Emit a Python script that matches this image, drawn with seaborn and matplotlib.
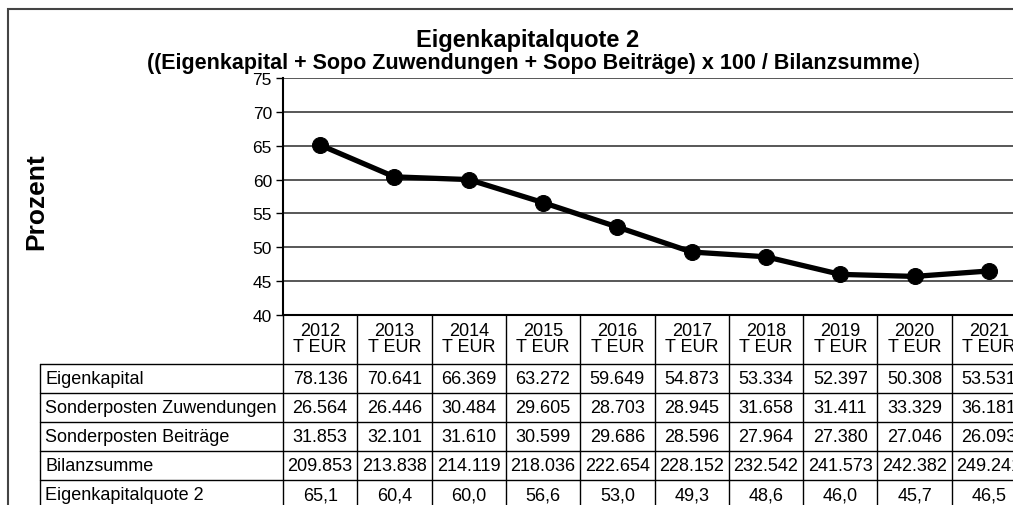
import matplotlib
matplotlib.use("Agg")
import matplotlib.pyplot as plt
import seaborn as sns
import pandas as pd
from matplotlib.patches import Rectangle

# ---- data ----
years = ["2012", "2013", "2014", "2015", "2016", "2017", "2018", "2019", "2020", "2021"]
quote = [65.1, 60.4, 60.0, 56.6, 53.0, 49.3, 48.6, 46.0, 45.7, 46.5]
row_labels = ["Eigenkapital", "Sonderposten Zuwendungen", "Sonderposten Beiträge",
              "Bilanzsumme", "Eigenkapitalquote 2"]
eigenkapital = ["78.136", "70.641", "66.369", "63.272", "59.649", "54.873", "53.334", "52.397", "50.308", "53.531"]
sopo_zuw = ["26.564", "26.446", "30.484", "29.605", "28.703", "28.945", "31.658", "31.411", "33.329", "36.181"]
sopo_beitr = ["31.853", "32.101", "31.610", "30.599", "29.686", "28.596", "27.964", "27.380", "27.046", "26.093"]
bilanzsumme = ["209.853", "213.838", "214.119", "218.036", "222.654", "228.152", "232.542", "241.573", "242.382", "249.241"]
quote_txt = ["65,1", "60,4", "60,0", "56,6", "53,0", "49,3", "48,6", "46,0", "45,7", "46,5"]
unit = "T EUR"
yticks = [40, 45, 50, 55, 60, 65, 70, 75]

sns.set_theme(style="white")
plt.rcParams["font.family"] = ["Liberation Sans", "DejaVu Sans"]
plt.rcParams["text.color"] = "black"
plt.rcParams["axes.labelcolor"] = "black"
plt.rcParams["ytick.color"] = "black"
plt.rcParams["xtick.color"] = "black"

W, H = 1013, 506
fig = plt.figure(figsize=(W / 100, H / 100), dpi=100)
fig.patch.set_facecolor("white")

def fx(px):
    return px / W

def fy(py):
    return 1 - py / H

# main plot area
left, right, top, bottom = 283, 1026, 79, 316
ax = fig.add_axes([fx(left), fy(bottom), fx(right - left), (bottom - top) / H])

df = pd.DataFrame({"x": list(range(len(years))), "y": quote})
sns.lineplot(data=df, x="x", y="y", ax=ax, color="black", linewidth=3.8,
             marker="o", markersize=11.5, markeredgecolor="black",
             markerfacecolor="black", zorder=5, clip_on=False)

ax.set_xlim(-0.5, len(years) - 0.5)
ax.set_ylim(40, 75)
ax.set_yticks(yticks)
ax.set_yticklabels([str(t) for t in yticks], fontsize=12.5, color="black")
ax.set_xticks([])
ax.set_xlabel("")
ax.set_ylabel("")
for t in yticks[1:]:
    ax.axhline(t, color="#4a4a4a", linewidth=1.3, zorder=1)
ax.tick_params(axis="y", which="both", left=True, length=5, width=1, color="black", pad=3)
ax.spines["right"].set_visible(False)
ax.spines["top"].set_visible(False)
ax.spines["left"].set_color("black")
ax.spines["left"].set_linewidth(1.5)
ax.spines["bottom"].set_color("black")
ax.spines["bottom"].set_linewidth(1.5)
ax.set_facecolor("white")

# table area (shares the x scale)
tab_top, tab_bottom = 316, 511
axt = fig.add_axes([fx(left), fy(tab_bottom), fx(right - left), (tab_bottom - tab_top) / H])
axt.set_xlim(ax.get_xlim())
row_bounds = [316, 365, 394, 423, 452, 481, 511]
axt.set_ylim(tab_bottom, tab_top)
axt.axis("off")

col_w_px = (right - left) / len(years)
label_left = -0.5 - (left - 40) / col_w_px

for i in range(len(years) + 1):
    axt.plot([i - 0.5, i - 0.5], [row_bounds[0], row_bounds[-1]], color="black",
             linewidth=1.0, clip_on=False)
axt.plot([label_left, label_left], [row_bounds[1], row_bounds[-1]], color="black",
         linewidth=1.0, clip_on=False)
for yb in row_bounds[1:]:
    axt.plot([label_left, len(years) - 0.5], [yb, yb], color="black", linewidth=1.0,
             clip_on=False)

for i, yr in enumerate(years):
    axt.text(i, (row_bounds[0] + row_bounds[1]) / 2 - 1, f"{yr}\n{unit}", ha="center",
             va="center", fontsize=13, linespacing=0.95, clip_on=False)

rows = [eigenkapital, sopo_zuw, sopo_beitr, bilanzsumme, quote_txt]
for r, (lab, vals) in enumerate(zip(row_labels, rows)):
    yc = (row_bounds[r + 1] + row_bounds[r + 2]) / 2
    axt.text(label_left + 0.07, yc, lab, ha="left", va="center", fontsize=13, clip_on=False)
    for i, v in enumerate(vals):
        axt.text(i, yc, v, ha="center", va="center", fontsize=13, clip_on=False)

# titles
fig.text(fx(528), fy(40), "Eigenkapitalquote 2", ha="center", va="center",
         fontsize=17, fontweight="bold")
fig.text(fx(913), fy(64), "((Eigenkapital + Sopo Zuwendungen + Sopo Beiträge) x 100 / Bilanzsumme",
         ha="right", va="center", fontsize=15.5, fontweight="bold")
fig.text(fx(913), fy(64), ")", ha="left", va="center", fontsize=15.5)

# y label
fig.text(fx(36), fy(202), "Prozent", rotation=90, ha="center", va="center",
         fontsize=19, fontweight="bold")

# outer frame
fig.add_artist(Rectangle((fx(8), -0.1), 1.2, fy(10) + 0.1, transform=fig.transFigure,
                         fill=False, edgecolor="#444444", linewidth=1.5))

fig.savefig("out.png", dpi=100)
